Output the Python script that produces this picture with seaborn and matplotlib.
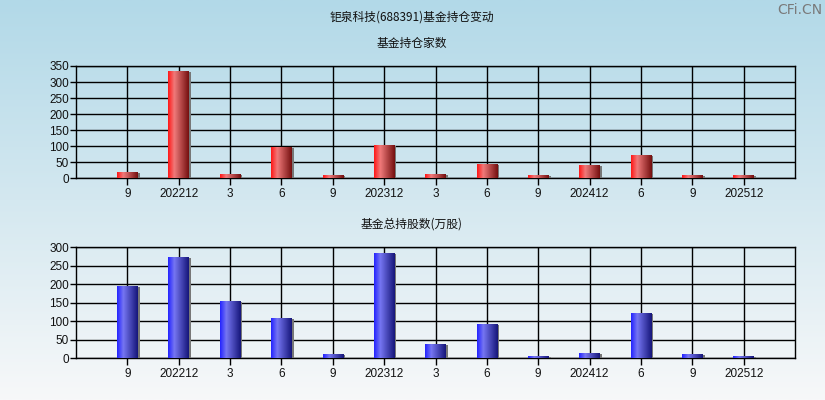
import numpy as np
import pandas as pd
import matplotlib
matplotlib.use('Agg')
import matplotlib.pyplot as plt
import matplotlib.patheffects as pe
import seaborn as sns
from matplotlib.colors import LinearSegmentedColormap

# ---- data ----
periods = ['9', '202212', '3', '6', '9', '202312', '3', '6', '9', '202412', '6', '9', '202512']
fund_counts = [16, 331, 10, 94, 7, 100, 10, 41, 7, 38, 69, 7, 7]
fund_shares = [193, 271, 152, 106, 9, 282, 36, 90, 4, 12, 120, 9, 4]

title_main = '钜泉科技(688391)基金持仓变动'
title_top = '基金持仓家数'
title_bottom = '基金总持股数(万股)'

sns.set_theme(style='white')
plt.rcParams['font.family'] = ['Noto Sans CJK SC', 'DejaVu Sans']

fig = plt.figure(figsize=(8.25, 4.0), dpi=100)

# background gradient
bg = fig.add_axes([0, 0, 1, 1], zorder=-10)
grad = np.linspace(0, 1, 256).reshape(-1, 1)
bg_cmap = LinearSegmentedColormap.from_list('bg', ['#b2d9e8', '#d4e8f0', '#f7f8f9'])
bg.imshow(grad, aspect='auto', cmap=bg_cmap, extent=[0, 1, 0, 1], origin='upper')
bg.axis('off')

red_cmap = LinearSegmentedColormap.from_list('r', [(0, '#ff1818'), (0.3, '#f07a7a'), (1.0, '#751010')])
blue_cmap = LinearSegmentedColormap.from_list('b', [(0, '#2424ff'), (0.3, '#7676f2'), (1.0, '#16167a')])

L = 76 / 825
W = 719 / 825
ax1 = fig.add_axes([L, 1 - 178.3 / 400, W, (178.3 - 66) / 400])
ax2 = fig.add_axes([L, 1 - 358.3 / 400, W, (358.3 - 247.3) / 400])


def draw(ax, values, cmap, base, ymax, step):
    df = pd.DataFrame({'idx': list(range(len(values))), 'val': values})
    sns.barplot(data=df, x='idx', y='val', ax=ax, color=base, width=0.4,
                saturation=1, zorder=3, edgecolor='none', linewidth=0)
    g = np.linspace(0, 1, 64).reshape(1, -1)
    for p in ax.patches:
        x0, w, h = p.get_x(), p.get_width(), p.get_height()
        p.set_path_effects([pe.SimplePatchShadow(offset=(1.5, 0), shadow_rgbFace='#777777', alpha=1.0),
                            pe.Normal()])
        ax.imshow(g, aspect='auto', cmap=cmap, extent=[x0, x0 + w, 0, h], zorder=4,
                  interpolation='bilinear')
    ax.set_xlim(-1, 13)
    ax.set_ylim(0, ymax)
    ax.set_facecolor('none')
    ax.set_xticks(range(len(values)))
    ax.set_xticklabels(periods, family=['Liberation Sans', 'DejaVu Sans'], fontsize=8.5, color='#111111')
    yt = list(range(0, ymax + 1, step))
    ax.set_yticks(yt)
    ax.set_yticklabels([str(v) for v in yt], family=['Liberation Sans', 'DejaVu Sans'], fontsize=8.5,
                       color='#111111')
    ax.set_xlabel('')
    ax.set_ylabel('')
    ax.grid(True, color='black', linewidth=1.0, zorder=1)
    ax.set_axisbelow(True)
    for s in ax.spines.values():
        s.set_color('black')
        s.set_linewidth(1.0)
        s.set_visible(True)
    ax.tick_params(axis='x', direction='out', length=5, width=1, color='black', pad=2, bottom=True)
    ax.tick_params(axis='y', direction='out', length=4, width=1, color='black', pad=1, left=True)


draw(ax1, fund_counts, red_cmap, '#c03a3a', 350, 50)
draw(ax2, fund_shares, blue_cmap, '#3a3ac0', 300, 50)

fig.text(412 / 825, 1 - 17 / 400, title_main, ha='center', va='center', fontsize=8.5, color='#111111')
fig.text(412 / 825, 1 - 43 / 400, title_top, ha='center', va='center', fontsize=8.5, color='#111111')
fig.text(412 / 825, 1 - 224 / 400, title_bottom, ha='center', va='center', fontsize=8.5, color='#111111')
fig.text(822 / 825, 1 - 10 / 400, 'CFi.CN', ha='right', va='center', fontsize=10, color='#7a7a7a',
         family=['DejaVu Sans'])

fig.savefig('out.png', dpi=100)
